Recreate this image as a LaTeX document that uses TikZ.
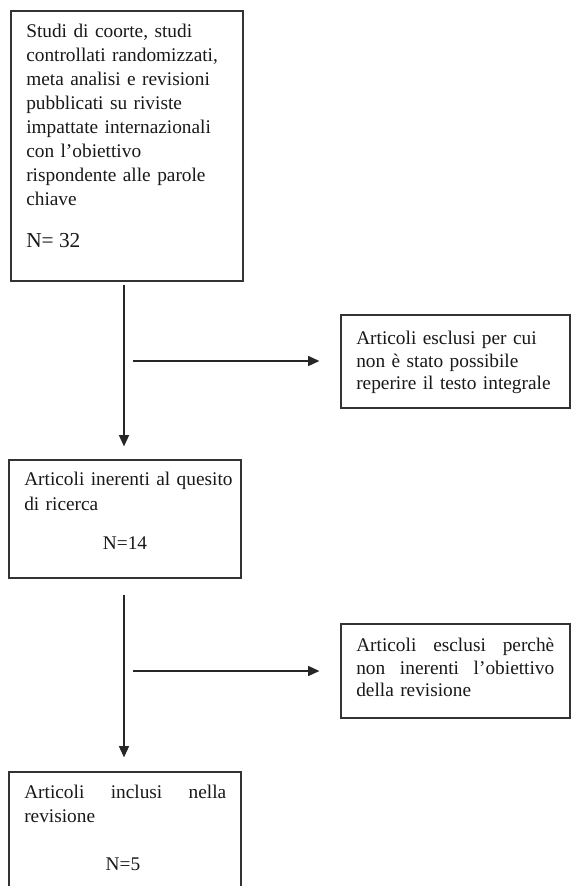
\documentclass[tikz,border=0pt]{standalone}
\usepackage{fontspec}
\setmainfont{Liberation Serif}
\usetikzlibrary{arrows.meta,fit,calc}
\begin{document}
\begin{tikzpicture}[x=0.75pt,y=-0.75pt,
  boxst/.style={draw=black!80, line width=0.9pt, inner sep=0pt},
  arr/.style={draw=black!85, line width=1.2pt, -{Triangle[length=8.5pt,width=7.5pt]}},
  txt/.style={inner sep=0pt, anchor=north west, align=left, text=black!90, font=\fontsize{14.5}{18}\selectfont},
  sidetxt/.style={txt, font=\fontsize{14.5}{17}\selectfont},
  ntxt/.style={inner sep=0pt, text=black!90, font=\fontsize{14.5}{18}\selectfont}
]
\clip (0,0) rectangle (571,886);
\fill[white] (0,0) rectangle (571,886);

% boxes
\node[boxst, fit={(11,11) (243,281)}] (b1) {};
\node[boxst, fit={(341,315) (570,408)}] (s1) {};
\node[boxst, fit={(9,460) (241,578)}] (b2) {};
\node[boxst, fit={(341,624) (570,718)}] (s2) {};
\node[boxst, fit={(9,772) (241,900)}] (b3) {};

% texts
\node[txt, text width=165pt] (t1) at (26,23.7) {\rule{0pt}{10pt}Studi di coorte, studi\\
controllati randomizzati,\\
meta analisi e revisioni\\
pubblicati su riviste\\
impattate internazionali\\
con l’obiettivo\\
rispondente alle parole\\
chiave};
\node[ntxt, anchor=base west, font=\fontsize{16}{18}\selectfont] (n1) at (26,247) {N= 32};

\node[sidetxt, text width=165pt] (t2) at (356,330.7) {\rule{0pt}{10pt}Articoli esclusi per cui\\
non è stato possibile\\
reperire il testo integrale};

\node[txt, text width=165pt, font=\fontsize{14.5}{18.5}\selectfont] (t3) at (24,471.7) {\rule{0pt}{10pt}Articoli inerenti al quesito\\
di ricerca};
\node[ntxt, anchor=base] (n2) at (125,549) {N=14};

\node[sidetxt, text width=150pt] (t4) at (356,637.7) {\rule{0pt}{10pt}\makebox[148.5pt][l]{Articoli\hfill esclusi\hfill perchè}\\
\makebox[148.5pt][l]{non\hfill inerenti\hfill l’obiettivo}\\
della revisione};

\node[txt, text width=155pt] (t5) at (24,784.7) {\rule{0pt}{10pt}\makebox[151.5pt][l]{Articoli\hfill inclusi\hfill nella}\\
revisione};
\node[ntxt, anchor=base] (n3) at (123,870) {N=5};

% connectors
\coordinate (trunk) at (124,0);
\draw[arr, shorten <=2.25pt, shorten >=9.75pt] (b1.south -| trunk) -- (b2.north -| trunk);
\draw[arr, shorten <=12pt, shorten >=10.5pt] (b2.south -| trunk) -- (b3.north -| trunk);
\coordinate (h1) at (133,361);
\draw[arr, shorten >=15.75pt] (h1) -- (h1 -| s1.west);
\coordinate (h2) at (133,671);
\draw[arr, shorten >=15.75pt] (h2) -- (h2 -| s2.west);
\end{tikzpicture}
\end{document}
